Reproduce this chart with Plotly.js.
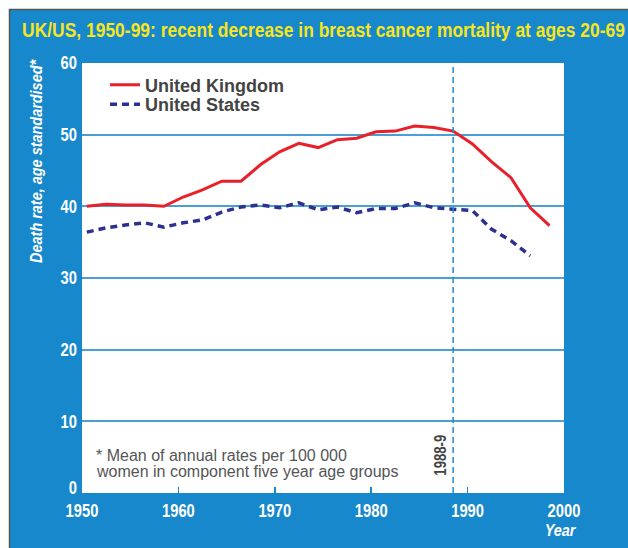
<!DOCTYPE html>
<html>
<head>
<meta charset="utf-8">
<script src="https://cdn.plot.ly/plotly-3.0.1.min.js"></script>
<style>
html,body{margin:0;padding:0;background:#ffffff;}
#chart{width:628px;height:548px;}
</style>
</head>
<body>
<div id="chart"></div>
<script>
// ---- data ----
const ukYears = [1950.5,1952.5,1954.5,1956.5,1958.5,1960.5,1962.5,1964.5,1966.5,1968.5,1970.5,1972.5,1974.5,1976.5,1978.5,1980.5,1982.5,1984.5,1986.5,1988.5,1990.5,1992.5,1994.5,1996.5,1998.5];
const ukRates = [40.0,40.3,40.2,40.2,40.0,41.3,42.3,43.5,43.5,45.8,47.6,48.8,48.2,49.3,49.5,50.4,50.5,51.2,51.0,50.5,48.7,46.2,44.0,39.8,37.3];
const usYears = [1950.5,1952.5,1954.5,1956.5,1958.5,1960.5,1962.5,1964.5,1966.5,1968.5,1970.5,1972.5,1974.5,1976.5,1978.5,1980.5,1982.5,1984.5,1986.5,1988.5,1990.5,1992.5,1994.5,1996.5];
const usRates = [36.4,37.0,37.4,37.7,37.1,37.7,38.1,39.2,39.9,40.2,39.8,40.5,39.5,39.9,39.1,39.7,39.7,40.5,39.8,39.6,39.4,36.8,35.2,33.1];
const markerYear = 1988.5;
const markerLabel = '1988-9';
const xTicks = [1950,1960,1970,1980,1990,2000];
const yTicks = [0,10,20,30,40,50,60];
const seriesNames = ['United Kingdom','United States'];
const titleText = 'UK/US, 1950-99: recent decrease in breast cancer mortality at ages 20-69';
const yTitleText = 'Death rate, age standardised*';
const xTitleText = 'Year';
const noteLines = ['* Mean of annual rates per 100 000', 'women in component five year age groups'];

// ---- styling ----
const BLUE = '#1788cb';
const GRID = '#4a9fd6';
const SANS = '"Liberation Sans", Arial, sans-serif';

// plot area in px: left 82, right 564, top 63, bottom 493
const W = 628, H = 548, L = 82, R = 564, T = 63, B = 493;
const px2x = p => (p - L) / (R - L);
const px2y = p => (B - p) / (B - T);

const traces = [
  {x: ukYears, y: ukRates, name: seriesNames[0], type: 'scatter', mode: 'lines',
   line: {color: '#e8202a', width: 3}, legend: 'legend'},
  {x: usYears, y: usRates, name: seriesNames[1], type: 'scatter', mode: 'lines',
   line: {color: '#2c3190', width: 3.5, dash: '7px,5px'}, legend: 'legend2'}
];

const legendFont = {family: SANS, size: 18, color: '#444444', weight: 'bold'};
const tickFont = {family: SANS, size: 18, color: '#ffffff', weight: 'bold'};

const layout = {
  width: W, height: H,
  margin: {l: L, r: W - R, t: T, b: H - B, pad: 0},
  paper_bgcolor: '#ffffff',
  plot_bgcolor: 'rgba(0,0,0,0)',
  showlegend: true,
  title: {
    text: titleText, xref: 'container', yref: 'container',
    x: 323.5 / W, xanchor: 'center', y: 1 - 30 / H, yanchor: 'middle',
    font: {family: SANS, size: 21, color: '#f7e51e', weight: 'bold'}
  },
  xaxis: {
    range: [1950, 2000], tickvals: xTicks, ticktext: xTicks.map(String),
    showgrid: false, zeroline: false, showline: false,
    ticks: 'inside', ticklen: 6, tickwidth: 1.5, tickcolor: BLUE,
    ticklabelstandoff: 5,
    tickfont: tickFont, fixedrange: true
  },
  yaxis: {
    range: [0, 60], tickvals: yTicks, ticktext: yTicks.map(String),
    showgrid: true, gridcolor: GRID, gridwidth: 2,
    zeroline: false, showline: false, ticks: '',
    ticklabelstandoff: 4,
    tickfont: tickFont, fixedrange: true
  },
  legend: {
    x: px2x(105), y: px2y(85), xanchor: 'left', yanchor: 'middle',
    bgcolor: 'rgba(0,0,0,0)', borderwidth: 0, font: legendFont
  },
  legend2: {
    x: px2x(105), y: px2y(104.5), xanchor: 'left', yanchor: 'middle',
    bgcolor: 'rgba(0,0,0,0)', borderwidth: 0, font: legendFont
  },
  shapes: [
    {type: 'rect', xref: 'paper', yref: 'paper', layer: 'below',
     x0: px2x(9.5), x1: px2x(640), y0: px2y(560), y1: px2y(9.5),
     fillcolor: BLUE, line: {color: '#555555', width: 1.5}},
    {type: 'rect', xref: 'paper', yref: 'paper', layer: 'below',
     x0: 0, x1: 1, y0: 0, y1: 1, fillcolor: '#ffffff', line: {width: 0}},
    {type: 'line', xref: 'x', yref: 'paper', layer: 'above',
     x0: markerYear, x1: markerYear, y0: 0, y1: 1,
     line: {color: '#1f8bd0', width: 1.5, dash: '6px,4px'}}
  ],
  annotations: [
    {text: yTitleText, xref: 'paper', yref: 'paper', x: px2x(36), y: px2y(161),
     xanchor: 'center', yanchor: 'middle', textangle: -90, showarrow: false,
     font: {family: SANS, size: 17, color: '#ffffff', weight: 'bold', style: 'italic'}},
    {text: xTitleText, xref: 'paper', yref: 'paper', x: px2x(579), y: px2y(530),
     xanchor: 'right', yanchor: 'middle', showarrow: false,
     font: {family: SANS, size: 17, color: '#ffffff', weight: 'bold', style: 'italic'}},
    {text: noteLines[0], xref: 'paper', yref: 'paper', x: px2x(94), y: px2y(455),
     xanchor: 'left', yanchor: 'middle', align: 'left', showarrow: false,
     font: {family: SANS, size: 16, color: '#555555'}},
    {text: noteLines[1], xref: 'paper', yref: 'paper', x: px2x(94), y: px2y(471),
     xanchor: 'left', yanchor: 'middle', align: 'left', showarrow: false,
     font: {family: SANS, size: 16, color: '#555555'}},
    {text: markerLabel, xref: 'x', yref: 'paper', x: markerYear, y: px2y(455),
     xshift: -13, xanchor: 'center', yanchor: 'middle', textangle: -90, showarrow: false,
     font: {family: SANS, size: 16, color: '#444444', weight: 'bold'}}
  ]
};

// squeeze a text element along its own writing direction (condensed type look)
function condense(el, sx, anchor) {
  const bb = el.getBBox();
  let cx = bb.x + bb.width / 2;
  if (anchor === 'left') cx = bb.x;
  if (anchor === 'right') cx = bb.x + bb.width;
  const prev = el.getAttribute('transform') || '';
  el.setAttribute('transform', prev + ' translate(' + cx + ',0) scale(' + sx + ',1) translate(' + (-cx) + ',0)');
}

Plotly.newPlot('chart', traces, layout, {displayModeBar: false, staticPlot: true}).then(gd => {
  const title = gd.querySelector('.gtitle');
  if (title) condense(title, 603 / title.getBBox().width, 'center');
  gd.querySelectorAll('.xtick text').forEach(t => condense(t, 0.82, 'center'));
  gd.querySelectorAll('.ytick text').forEach(t => {
    if (t.textContent === '0') {
      // the reference lifts the zero label clear of the year labels
      t.setAttribute('transform', (t.getAttribute('transform') || '') + ' translate(0,-5)');
    }
    condense(t, 0.82, 'right');
  });
  gd.querySelectorAll('.annotation-text').forEach(t => {
    const s = t.textContent;
    if (s === yTitleText) condense(t, 0.85, 'center');
    else if (s === xTitleText) condense(t, 0.85, 'right');
    else if (s === markerLabel) condense(t, 0.82, 'center');
  });
});
</script>
</body>
</html>
